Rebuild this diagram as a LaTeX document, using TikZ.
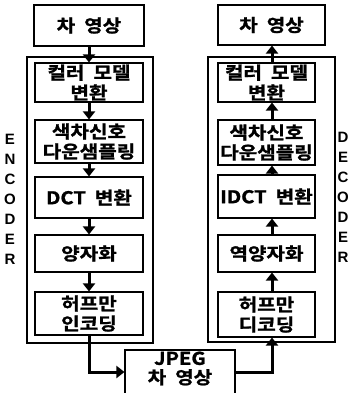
\documentclass[tikz,border=0pt]{standalone}
\usepackage{fontspec}
\usetikzlibrary{arrows.meta,calc}
\newfontfamily\kr{Noto Sans CJK KR Bold}[FakeBold=1.3,FakeStretch=1.15]
\newfontfamily\lab{Liberation Sans Bold}
\newcommand{\krsp}{\hspace{9pt}}
\tikzset{
  box/.style={draw, line width=1.1pt, inner sep=0pt, align=center,
    font=\kr\fontsize{17.5}{20}\selectfont},
  frame/.style={draw, line width=1.1pt, inner sep=0pt},
  flow/.style={line width=3pt, -{Triangle[width=12pt,length=8pt]}},
  side/.style={font=\lab\fontsize{15}{20}\selectfont, align=center, inner sep=0pt}
}
\begin{document}
\begin{tikzpicture}[x=1pt,y=-1pt]
\useasboundingbox (0,0) rectangle (353,393);
% encoder
\node[frame, minimum width=126pt, minimum height=286pt] (encL) at (90,200) {};
\node[box, minimum width=110pt, minimum height=41pt] (topL) at (89,25.5) {차\krsp 영상};
\node[box, minimum width=108pt, minimum height=39pt] (L1) at (89,82.5) {컬러\krsp 모델\\변환};
\node[box, minimum width=108pt, minimum height=43pt] (L2) at (89,141.5) {색차신호\\다운샘플링};
\node[box, minimum width=108pt, minimum height=41pt] (L3) at (89,197.5) {DCT\krsp 변환};
\node[box, minimum width=108pt, minimum height=37pt] (L4) at (89,253.5) {양자화};
\node[box, minimum width=108pt, minimum height=43pt] (L5) at (89,313.5) {허프만\\인코딩};
\node[side] (enc) at (10,199) {E\\N\\C\\O\\D\\E\\R};
% decoder
\node[frame, minimum width=127pt, minimum height=285pt] (decR) at (271.5,199.5) {};
\node[box, minimum width=107pt, minimum height=40pt] (topR) at (271.5,25) {차\krsp 영상};
\node[box, minimum width=97pt, minimum height=39pt] (R1) at (266.5,82.5) {컬러\krsp 모델\\변환};
\node[box, minimum width=97pt, minimum height=45pt] (R2) at (266.5,142.5) {색차신호\\다운샘플링};
\node[box, minimum width=97pt, minimum height=43pt] (R3) at (266.5,196.5) {IDCT\krsp 변환};
\node[box, minimum width=97pt, minimum height=37pt] (R4) at (266.5,253.5) {역양자화};
\node[box, minimum width=97pt, minimum height=45pt] (R5) at (266.5,314.5) {허프만\\디코딩};
\node[side] (dec) at (343,197.5) {D\\E\\C\\O\\D\\E\\R};
% jpeg
\node[frame, minimum width=110pt, minimum height=60pt] (jbox) at (180,380) {};
\node[box, draw=none, font=\kr\fontsize{17.5}{19}\selectfont] (jtxt) at (180,368.5) {JPEG\\차\krsp 영상};
% arrows encoder
\draw[flow] (topL.south) -- (L1.north);
\draw[flow] (L1.south) -- (L2.north);
\draw[flow] (L2.south) -- (L3.north);
\draw[flow] (L3.south) -- (L4.north);
\draw[flow] (L4.south) -- (L5.north);
\draw[flow] (L5.south) |- ([yshift=8pt]jbox.west);
% arrows decoder
\draw[flow] ([yshift=8pt]jbox.east) -| ([xshift=5.5pt]R5.south);
\draw[flow] ([xshift=5.5pt]R5.north) -- ([xshift=5.5pt]R4.south);
\draw[flow] ([xshift=5.5pt]R4.north) -- ([xshift=5.5pt]R3.south);
\draw[flow] ([xshift=5.5pt]R3.north) -- ([xshift=5.5pt]R2.south);
\draw[flow] ([xshift=5.5pt]R2.north) -- ([xshift=5.5pt]R1.south);
\draw[flow] ([xshift=5.5pt]R1.north) -- ([xshift=5.5pt]R1.north |- topR.south);
\end{tikzpicture}
\end{document}
